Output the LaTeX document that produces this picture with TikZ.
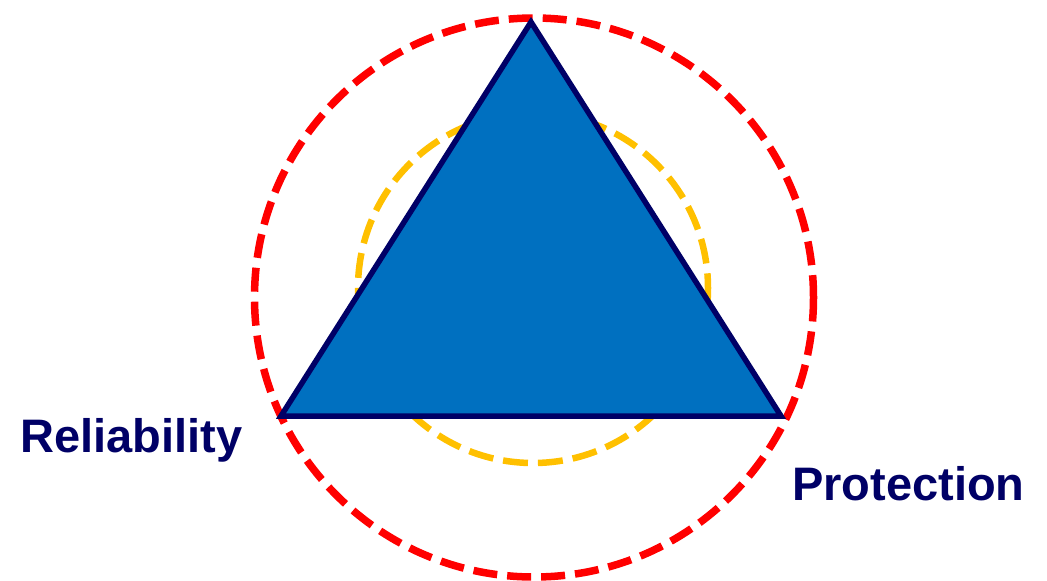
\documentclass[tikz,border=0pt]{standalone}
\usepackage{fontspec}
\setmainfont{Liberation Sans}
\definecolor{navy}{RGB}{0,0,102}
\definecolor{triblue}{RGB}{0,112,192}
\definecolor{ringred}{RGB}{255,0,0}
\definecolor{ringyellow}{RGB}{255,192,0}
\tikzset{
  redring/.style={draw=ringred, line width=7.5pt, dash pattern=on 24pt off 10pt},
  yellowring/.style={draw=ringyellow, line width=6.5pt, dash pattern=on 25pt off 10pt},
  tri/.style={draw=navy, fill=triblue, line width=5.5pt, line join=miter},
  lbl/.style={text=navy, font=\fontsize{47}{56}\selectfont\bfseries, inner sep=0pt}
}
\begin{document}
\begin{tikzpicture}[x=1pt,y=-1pt]
\useasboundingbox (0,0) rectangle (1047,581);
\path[redring] (534,297.5) circle[radius=279.5];
\path[yellowring] (533,288) circle[radius=175];
\coordinate (A) at (531,22);
\coordinate (B) at (281,416);
\coordinate (C) at (781,416);
\path[tri] (A) -- (B) -- (C) -- cycle;
\node[lbl, anchor=base west] (rel) at (20,452) {Reliability};
\node[lbl, anchor=base west] (pro) at (792,500) {Protection};
\end{tikzpicture}
\end{document}
